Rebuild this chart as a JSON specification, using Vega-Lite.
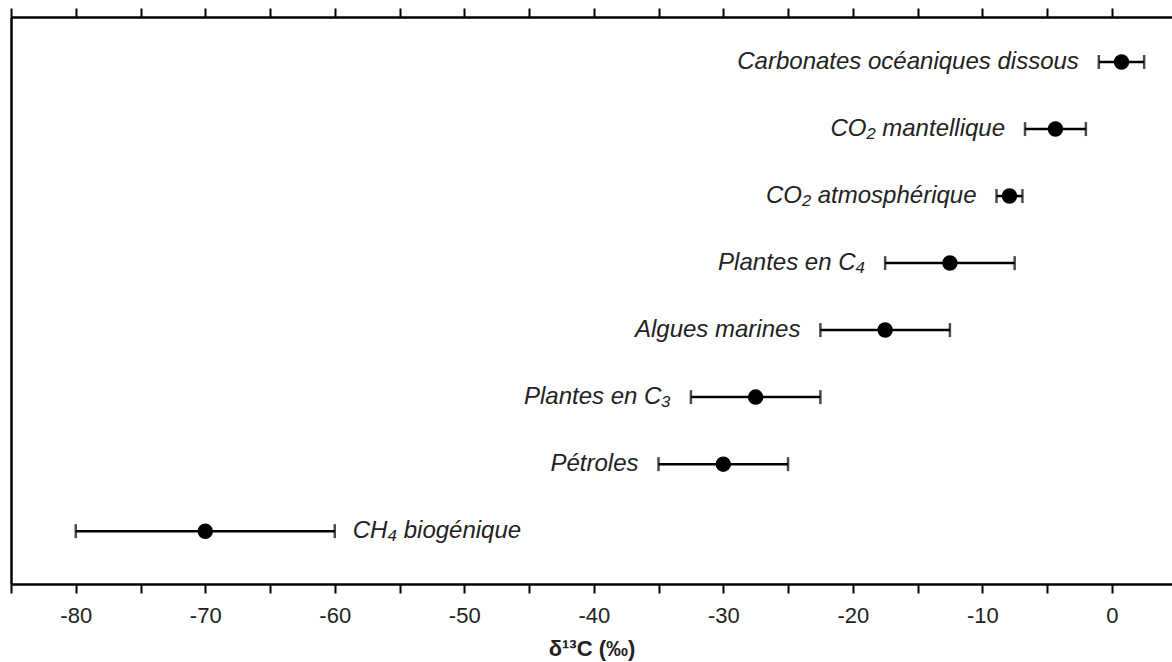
{
  "$schema": "https://vega.github.io/schema/vega-lite/v6.json",
  "autosize": "none",
  "width": 1161,
  "height": 567,
  "padding": {"left": 11, "top": 17, "right": 0, "bottom": 78},
  "background": "white",
  "config": {
    "view": {"stroke": null},
    "font": "Liberation Sans",
    "axis": {"grid": false}
  },
  "data": {
    "values": [
      {"name": "Carbonates océaniques dissous", "mean": 0.75, "lo": -1.0, "hi": 2.5},
      {"name": "CO₂ mantellique", "mean": -4.35, "lo": -6.7, "hi": -2.0},
      {"name": "CO₂ atmosphérique", "mean": -7.9, "lo": -8.9, "hi": -6.9},
      {"name": "Plantes en C₄", "mean": -12.5, "lo": -17.5, "hi": -7.5},
      {"name": "Algues marines", "mean": -17.5, "lo": -22.5, "hi": -12.5},
      {"name": "Plantes en C₃", "mean": -27.5, "lo": -32.5, "hi": -22.5},
      {"name": "Pétroles", "mean": -30.0, "lo": -35.0, "hi": -25.0},
      {"name": "CH₄ biogénique", "mean": -70.0, "lo": -80.0, "hi": -60.0}
    ]
  },
  "resolve": {"axis": {"x": "independent"}},
  "layer": [
    {
      "mark": {"type": "rule", "strokeWidth": 2.5, "color": "black"},
      "encoding": {
        "y": {
          "field": "name", "type": "nominal", "sort": null,
          "scale": {"type": "point", "padding": 0.73, "align": 0.46},
          "axis": {"title": null, "labels": false, "ticks": false, "domain": true, "domainColor": "black", "domainWidth": 2.5}
        },
        "x": {
          "field": "lo", "type": "quantitative",
          "scale": {"domain": [-85, 4.65], "nice": false, "zero": false},
          "axis": {
            "orient": "bottom",
            "values": [-85, -80, -75, -70, -65, -60, -55, -50, -45, -40, -35, -30, -25, -20, -15, -10, -5, 0],
            "labelExpr": "datum.value % 10 === 0 ? '' + datum.value : ''",
            "domainColor": "black", "domainWidth": 2.5,
            "tickColor": "black", "tickWidth": 2, "tickSize": 9,
            "labelFontSize": 22, "labelColor": "#222", "labelPadding": 12, "labelFont": "Liberation Sans",
            "title": "δ¹³C (‰)", "titleFontSize": 22, "titleFontWeight": "bold", "titleColor": "#222", "titlePadding": 12, "titleFont": "Liberation Sans"
          }
        },
        "x2": {"field": "hi"}
      }
    },
    {
      "mark": {"type": "tick", "orient": "vertical", "size": 14, "thickness": 2.5, "color": "black"},
      "encoding": {
        "y": {"field": "name", "type": "nominal", "sort": null},
        "x": {
          "field": "lo", "type": "quantitative",
          "axis": {
            "orient": "top",
            "values": [-85, -80, -75, -70, -65, -60, -55, -50, -45, -40, -35, -30, -25, -20, -15, -10, -5, 0],
            "labels": false, "title": null,
            "domainColor": "black", "domainWidth": 2.5,
            "tickColor": "black", "tickWidth": 2, "tickSize": 9
          }
        }
      }
    },
    {
      "mark": {"type": "tick", "orient": "vertical", "size": 14, "thickness": 2.5, "color": "black"},
      "encoding": {
        "y": {"field": "name", "type": "nominal", "sort": null},
        "x": {"field": "hi", "type": "quantitative", "axis": null}
      }
    },
    {
      "mark": {"type": "circle", "size": 240, "color": "black", "opacity": 1},
      "encoding": {
        "y": {"field": "name", "type": "nominal", "sort": null},
        "x": {"field": "mean", "type": "quantitative", "axis": null}
      }
    },
    {
      "transform": [{"filter": "datum.name !== 'CH₄ biogénique'"}],
      "mark": {"type": "text", "align": "right", "baseline": "middle", "dx": -20, "fontStyle": "italic", "fontSize": 24, "color": "#222", "font": "Liberation Sans"},
      "encoding": {
        "y": {"field": "name", "type": "nominal", "sort": null},
        "x": {"field": "lo", "type": "quantitative", "axis": null},
        "text": {"field": "name"}
      }
    },
    {
      "transform": [{"filter": "datum.name === 'CH₄ biogénique'"}],
      "mark": {"type": "text", "align": "left", "baseline": "middle", "dx": 18, "fontStyle": "italic", "fontSize": 24, "color": "#222", "font": "Liberation Sans"},
      "encoding": {
        "y": {"field": "name", "type": "nominal", "sort": null},
        "x": {"field": "hi", "type": "quantitative", "axis": null},
        "text": {"field": "name"}
      }
    }
  ]
}
